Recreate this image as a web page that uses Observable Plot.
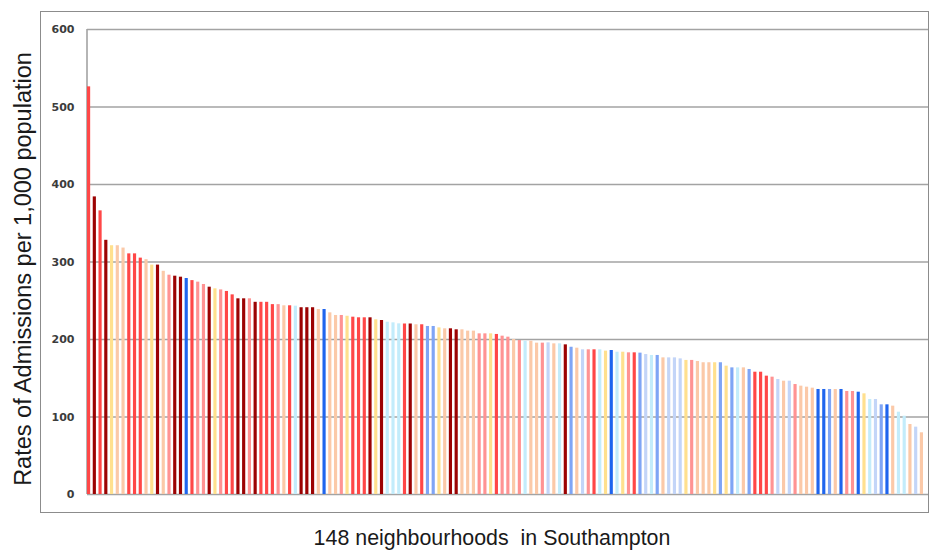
<!DOCTYPE html>
<html><head><meta charset="utf-8">
<script src="https://cdn.jsdelivr.net/npm/d3@7"></script>
<script src="https://cdn.jsdelivr.net/npm/@observablehq/plot@0.6"></script>
<style>body{margin:0;background:#fff;}</style>
</head><body><div id="chart"></div>
<script>
// Admission rate per neighbourhood (sorted descending)
const rates = [
526,384,366,328,321,321,318,310.5,310.5,305,303,296,296,288,283,281.7,280.4,278.7,276,274,
271,267.5,265.4,264,262,257.6,252.5,252.5,252.5,248,248,248,245,245,243.5,243.5,243,241,241,241,
238.7,238.7,234.4,231,231,230,228.8,228,228,228,225.4,224.5,222.3,221.5,220.2,220,220,219,219,216.8,
216.8,215,213.8,213.8,212.5,212.5,210.8,210.8,207.3,207.3,207.3,206.5,204.3,203,200,198.7,197.8,197.8,195.3,195.3,
195.7,194.4,194.4,193.1,190,188.8,186.7,186.7,186.7,186.7,185,185.8,183.6,183.6,182.8,182.8,182.4,180.6,179.4,179.4,
176.3,176.3,176.3,175,173,173,171.6,170,170,170,170,165.6,163.4,163.4,163.4,161.3,157.8,157.8,152.7,151.4,
148.4,146.2,146.2,141.9,139.8,138.5,137.2,135.5,135.5,135.5,135.5,135.5,132.9,132.9,132,129.9,122.6,122.6,115.7,115.7,
114,106.2,101,90.3,86.9,79.6
];
// Colour group of each bar
const groups = [
"R","DR","R","DR","Y","P","P","R","R","R","P","Y","DR","P","LR","DR","DR","B","R","LR",
"LR","DR","Y","LR","R","R","DR","DR","LR","DR","R","R","R","LR","P","R","C","DR","DR","DR",
"P","B","P","P","LR","Y","R","R","R","DR","Y","DR","C","C","C","R","DR","P","R","MB",
"MB","Y","P","DR","DR","P","P","P","LR","LR","Y","R","LR","LR","P","LR","C","P","P","LR",
"LB","P","C","DR","MB","P","LB","LR","R","C","Y","B","C","Y","LR","R","MB","LB","C","MB",
"P","LB","LB","LB","Y","LR","P","P","P","Y","MB","Y","MB","C","P","MB","R","R","R","LR",
"LB","P","LB","LR","P","P","P","B","B","MB","P","B","LR","LR","B","Y","C","LB","MB","B",
"P","C","C","P","LB","P"
];
const groupNames  = ["DR","R","LR","P","Y","C","LB","MB","B"];
const groupColors = ["#9c0303","#ff4747","#ff9393","#fbc9a8","#ffe08e","#c3ecfb","#c3d5f8","#7fa5f5","#1f65ee"];
const yTicks = [0,100,200,300,400,500,600];
const yLabel = "Rates of Admissions per 1,000 population";
const xLabel = "148 neighbourhoods  in Southampton";

const data = rates.map((v, i) => ({i, v, g: groups[i]}));

const chart = Plot.plot({
  width: 930, height: 552,
  marginLeft: 87, marginRight: 2, marginTop: 29, marginBottom: 58,
  style: {fontFamily: "DejaVu Sans, Verdana, sans-serif", fontSize: "11px", fontWeight: "bold", color: "#3c3c3c", background: "#fff"},
  x: {type: "band", domain: data.map(d => d.i), range: [87, 923], paddingInner: 0.45, paddingOuter: 0, axis: null},
  y: {domain: [0, 600], ticks: yTicks, tickSize: 0, tickPadding: 13, label: null, tickFormat: d => String(d)},
  color: {domain: groupNames, range: groupColors},
  marks: [
    Plot.frame({insetLeft: -47, insetTop: -18, insetBottom: -18, stroke: "#8c8c8c"}),
    Plot.ruleY(yTicks, {stroke: "#a3a3a3", strokeWidth: 1.6}),
    (index, scales, values, dims) => {
      const l = d3.create("svg:line")
        .attr("x1", dims.marginLeft).attr("x2", dims.marginLeft)
        .attr("y1", scales.y(0)).attr("y2", scales.y(600))
        .attr("stroke", "#a3a3a3").attr("stroke-width", 1.6);
      return l.node();
    },
    Plot.barY(data, {x: "i", y: "v", fill: "g"}),
    Plot.text([yLabel], {text: d => d, frameAnchor: "left", dx: -64, dy: 7, rotate: -90,
      textAnchor: "middle", lineAnchor: "middle", fontWeight: "normal",
      fontSize: 23.5, fill: "#1a1a1a", fontFamily: "Liberation Sans, Arial, sans-serif"}),
    Plot.text([xLabel], {text: d => d, frameAnchor: "bottom", dx: -16, dy: 44,
      textAnchor: "middle", lineAnchor: "middle", fontWeight: "normal",
      fontSize: 21.4, fill: "#1a1a1a", fontFamily: "Liberation Sans, Arial, sans-serif"})
  ]
});
document.getElementById("chart").appendChild(chart);
</script>
</body></html>
